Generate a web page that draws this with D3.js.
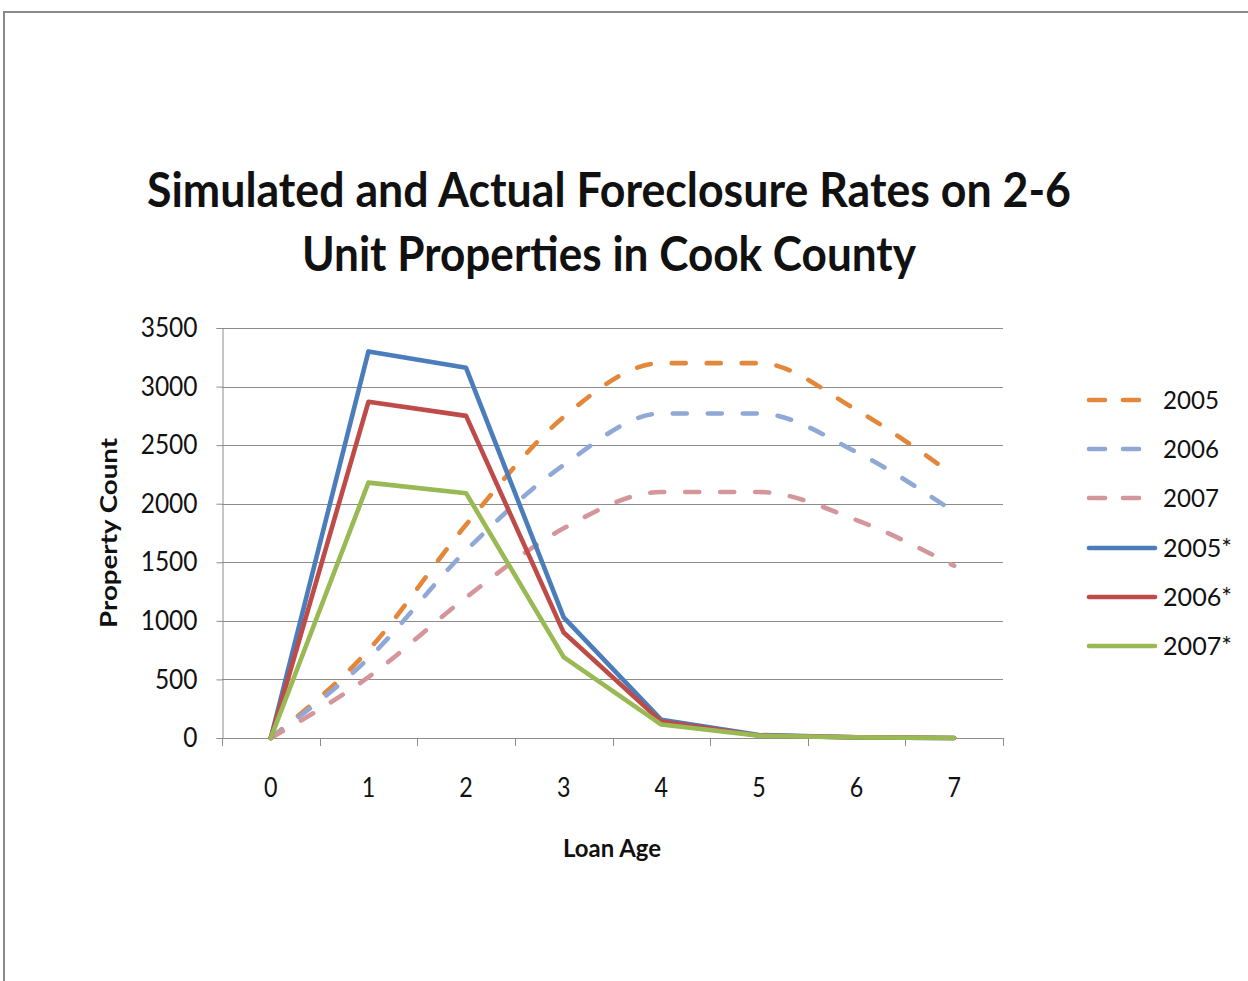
<!DOCTYPE html>
<html>
<head>
<meta charset="utf-8">
<script src="https://cdn.jsdelivr.net/npm/d3@7"></script>
<style>
  html, body { margin: 0; padding: 0; background: #fff; }
  svg { display: block; }
  text { font-family: Lato, "Liberation Sans", sans-serif; fill: #111; }
</style>
</head>
<body>
<svg id="chart" width="1248" height="981"></svg>
<script>
// Loan age categories
const loanAge = [0, 1, 2, 3, 4, 5, 6, 7];
const yTicks = [0, 500, 1000, 1500, 2000, 2500, 3000, 3500];

// Simulated foreclosure counts (dashed)
const sim2005 = [0, 750, 1820, 2740, 3200, 3200, 2800, 2240];
const sim2006 = [0, 680, 1600, 2330, 2770, 2770, 2440, 1930];
const sim2007 = [0, 520, 1200, 1790, 2100, 2100, 1860, 1470];

// Actual foreclosure counts (solid)
const act2005 = [0, 3300, 3160, 1030, 155, 25, 5, 0];
const act2006 = [0, 2870, 2750, 900, 140, 22, 5, 0];
const act2007 = [0, 2180, 2090, 690, 115, 20, 5, 0];

const seriesNames = ["2005", "2006", "2007", "2005*", "2006*", "2007*"];
const seriesValues = [sim2005, sim2006, sim2007, act2005, act2006, act2007];
const seriesColors = ["#E3883B", "#8FA8D6", "#D4969A", "#4A7DBA", "#BE4B48", "#98B954"];
const seriesDashed = [true, true, true, false, false, false];

const titleLines = ["Simulated and Actual Foreclosure Rates on 2-6", "Unit Properties in Cook County"];

const svg = d3.select("#chart");

// Outer chart frame
svg.append("path")
  .attr("d", "M4,981 V12 H1248")
  .attr("fill", "none")
  .attr("stroke", "#8a8a8a")
  .attr("stroke-width", 2);

// Fit a text element to a given width
function fitWidth(sel, w) {
  sel.attr("textLength", w).attr("lengthAdjust", "spacingAndGlyphs");
}

// Title
const titleBase = [207, 271];
const titleWidths = [924, 614];
titleLines.forEach((t, i) => {
  svg.append("text")
    .attr("x", 609).attr("y", titleBase[i])
    .attr("text-anchor", "middle")
    .attr("font-weight", "bold")
    .attr("font-size", 48)
    .text(t)
    .call(fitWidth, titleWidths[i]);
});

const plot = { left: 222, right: 1003, top: 328, bottom: 738 };

const x = d3.scaleBand()
  .domain(loanAge)
  .range([plot.left, plot.right])
  .padding(0);
const cx = d => x(d) + x.bandwidth() / 2;

const y = d3.scaleLinear()
  .domain([0, 3500])
  .range([plot.bottom, plot.top]);

// Gridlines
svg.append("g")
  .selectAll("line")
  .data(yTicks.filter(v => v > 0))
  .join("line")
  .attr("x1", plot.left).attr("x2", plot.right)
  .attr("y1", d => Math.round(y(d)) + 0.5).attr("y2", d => Math.round(y(d)) + 0.5)
  .attr("stroke", "#8c8c8c").attr("stroke-width", 1);

// Y axis
const yAxis = svg.append("g")
  .attr("transform", `translate(${plot.left + 0.5},0)`)
  .call(d3.axisLeft(y).tickValues(yTicks).tickSize(6).tickPadding(19).tickFormat(d3.format("d")));
yAxis.select(".domain").attr("stroke", "#8c8c8c");
yAxis.selectAll(".tick line").attr("stroke", "#8c8c8c");
yAxis.selectAll(".tick text")
  .attr("font-size", 27)
  .attr("font-family", "Lato, sans-serif")
  .attr("fill", "#111")
  .each(function(d) {
    const s = String(d);
    d3.select(this).call(fitWidth, s.length * 14.2);
  });

// X axis with ticks on category boundaries
const xAxisG = svg.append("g");
xAxisG.append("line")
  .attr("x1", plot.left).attr("x2", plot.right)
  .attr("y1", plot.bottom + 0.5).attr("y2", plot.bottom + 0.5)
  .attr("stroke", "#8c8c8c");
const boundaries = loanAge.map(d => x(d)).concat([x(loanAge[loanAge.length - 1]) + x.bandwidth()]);
xAxisG.selectAll("line.tk")
  .data(boundaries)
  .join("line")
  .attr("class", "tk")
  .attr("x1", d => Math.round(d) + 0.5).attr("x2", d => Math.round(d) + 0.5)
  .attr("y1", plot.bottom).attr("y2", plot.bottom + 8)
  .attr("stroke", "#8c8c8c");
xAxisG.selectAll("text")
  .data(loanAge)
  .join("text")
  .attr("x", d => cx(d))
  .attr("y", 797)
  .attr("text-anchor", "middle")
  .attr("font-size", 27)
  .text(d => d)
  .call(fitWidth, 13.5);

// Axis titles
svg.append("text")
  .attr("x", 612).attr("y", 857)
  .attr("text-anchor", "middle")
  .attr("font-weight", "bold")
  .attr("font-size", 24)
  .text("Loan Age")
  .call(fitWidth, 98);

svg.append("text")
  .attr("transform", "translate(117,533) rotate(-90)")
  .attr("text-anchor", "middle")
  .attr("font-weight", "bold")
  .attr("font-size", 23)
  .text("Property Count")
  .call(fitWidth, 190);

// Series lines
const lineSmooth = d3.line().x((d, i) => cx(loanAge[i])).y(d => y(d)).curve(d3.curveMonotoneX);
const lineStraight = d3.line().x((d, i) => cx(loanAge[i])).y(d => y(d)).curve(d3.curveLinear);

const linesG = svg.append("g");
seriesValues.forEach((vals, i) => {
  linesG.append("path")
    .datum(vals)
    .attr("d", seriesDashed[i] ? lineSmooth : lineStraight)
    .attr("fill", "none")
    .attr("stroke", seriesColors[i])
    .attr("stroke-width", 4.6)
    .attr("stroke-linejoin", "round")
    .attr("stroke-linecap", "round")
    .attr("stroke-dasharray", seriesDashed[i] ? "14,21" : null);
});

// Legend
const legendRowY = [400, 449, 498, 548, 597, 646];
const legend = svg.append("g");
seriesNames.forEach((name, i) => {
  const ry = legendRowY[i];
  legend.append("line")
    .attr("x1", 1089).attr("x2", seriesDashed[i] ? 1141 : 1155)
    .attr("y1", ry).attr("y2", ry)
    .attr("stroke", seriesColors[i])
    .attr("stroke-width", 4.6)
    .attr("stroke-linecap", "round")
    .attr("stroke-dasharray", seriesDashed[i] ? "16,18" : null);
  legend.append("text")
    .attr("x", 1163).attr("y", ry + 9)
    .attr("font-size", 25)
    .text(name)
    .call(fitWidth, name.length === 4 ? 56 : 69);
});
</script>
</body>
</html>
